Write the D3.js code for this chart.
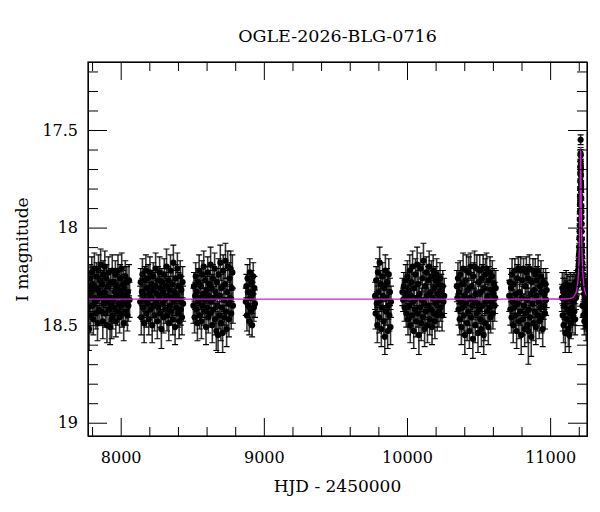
<!DOCTYPE html>
<html>
<head>
<meta charset="utf-8">
<script src="https://cdn.jsdelivr.net/npm/d3@7"></script>
<style>
body { margin: 0; background: #fff; }
svg { display: block; }
text { font-family: "DejaVu Serif", serif; fill: #000; }
</style>
</head>
<body>
<svg id="chart" width="600" height="512"></svg>
<script>
var title = "OGLE-2026-BLG-0716";
var xLabel = "HJD - 2450000";
var yLabel = "I magnitude";

var xDomain = [7771.6, 11257.5];
var yDomain = [17.1515, 19.068];
var xMajor = [8000, 9000, 10000, 11000];
var xMinor = [7800, 8200, 8400, 8600, 8800, 9200, 9400, 9600, 9800, 10200, 10400, 10600, 10800, 11200];
var yMajor = [17.5, 18, 18.5, 19];
var yMinor = [17.2, 17.3, 17.4, 17.6, 17.7, 17.8, 17.9, 18.1, 18.2, 18.3, 18.4, 18.6, 18.7, 18.8, 18.9];

// [HJD-2450000, I mag, error]
var s2017 = [[7772,18.41,0.08],[7776,18.30,0.07],[7779,18.52,0.11],[7783,18.35,0.08],[7787,18.26,0.07],[7790,18.45,0.09],[7794,18.33,0.07],[7798,18.23,0.08],[7801,18.40,0.07],[7805,18.29,0.06],[7809,18.47,0.08],[7812,18.36,0.07],[7816,18.21,0.08],[7820,18.38,0.07],[7823,18.31,0.06],[7827,18.44,0.08],[7831,18.25,0.07],[7834,18.37,0.06],[7838,18.49,0.09],[7842,18.32,0.07],[7845,18.22,0.08],[7849,18.42,0.07],[7853,18.34,0.06],[7856,18.27,0.07],[7860,18.19,0.08],[7864,18.43,0.07],[7867,18.36,0.06],[7871,18.29,0.07],[7875,18.48,0.09],[7878,18.24,0.07],[7882,18.39,0.06],[7886,18.33,0.07],[7889,18.20,0.08],[7893,18.44,0.07],[7897,18.35,0.06],[7900,18.26,0.07],[7904,18.50,0.09],[7908,18.38,0.07],[7911,18.30,0.06],[7915,18.23,0.08],[7919,18.42,0.07],[7922,18.36,0.06],[7926,18.51,0.09],[7930,18.28,0.07],[7933,18.40,0.08],[7937,18.47,0.10],[7941,18.22,0.08],[7944,18.45,0.07],[7948,18.37,0.06],[7952,18.28,0.07],[7955,18.41,0.08],[7959,18.33,0.06],[7963,18.24,0.07],[7966,18.48,0.08],[7970,18.35,0.07],[7974,18.30,0.06],[7977,18.43,0.07],[7981,18.22,0.08],[7985,18.39,0.06],[7988,18.32,0.07],[7992,18.46,0.08],[7996,18.26,0.07],[7999,18.40,0.06],[8003,18.34,0.07],[8007,18.21,0.08],[8010,18.44,0.07],[8014,18.36,0.06],[8018,18.29,0.07],[8021,18.49,0.09],[8025,18.31,0.07],[8029,18.39,0.06],[8032,18.25,0.08],[8036,18.43,0.07],[8040,18.35,0.07],[8043,18.28,0.08],[8047,18.45,0.08],[8051,18.33,0.07],[8054,18.40,0.08],[8058,18.27,0.08],[8062,18.37,0.09]];

var s2018 = [[8136,18.38,0.08],[8140,18.28,0.07],[8144,18.46,0.09],[8148,18.33,0.07],[8152,18.24,0.08],[8156,18.41,0.07],[8160,18.35,0.06],[8164,18.49,0.10],[8168,18.27,0.07],[8172,18.37,0.06],[8176,18.22,0.08],[8180,18.44,0.07],[8184,18.31,0.06],[8188,18.39,0.07],[8192,18.26,0.07],[8196,18.47,0.08],[8200,18.34,0.06],[8204,18.23,0.08],[8208,18.42,0.07],[8212,18.36,0.06],[8216,18.29,0.07],[8220,18.50,0.09],[8224,18.32,0.07],[8228,18.25,0.07],[8232,18.40,0.06],[8236,18.45,0.08],[8240,18.30,0.07],[8244,18.21,0.08],[8248,18.38,0.06],[8252,18.34,0.07],[8256,18.48,0.09],[8260,18.27,0.07],[8264,18.41,0.07],[8268,18.36,0.06],[8272,18.23,0.08],[8276,18.44,0.07],[8280,18.31,0.06],[8284,18.52,0.10],[8288,18.28,0.07],[8292,18.39,0.06],[8296,18.33,0.07],[8300,18.46,0.08],[8304,18.24,0.08],[8308,18.37,0.06],[8312,18.42,0.07],[8316,18.30,0.07],[8320,18.20,0.09],[8324,18.45,0.08],[8328,18.35,0.06],[8332,18.27,0.07],[8336,18.49,0.09],[8340,18.32,0.07],[8344,18.40,0.06],[8348,18.22,0.08],[8352,18.43,0.07],[8356,18.36,0.06],[8360,18.29,0.07],[8364,18.47,0.08],[8368,18.18,0.09],[8372,18.38,0.07],[8376,18.33,0.06],[8380,18.51,0.09],[8384,18.26,0.07],[8388,18.41,0.07],[8392,18.35,0.06],[8396,18.21,0.08],[8400,18.44,0.07],[8404,18.30,0.07],[8408,18.48,0.09],[8412,18.37,0.07],[8416,18.25,0.08],[8420,18.42,0.08],[8424,18.32,0.07],[8428,18.46,0.09],[8432,18.28,0.08],[8436,18.39,0.09]];

var s2019 = [[8508,18.40,0.09],[8512,18.30,0.07],[8516,18.46,0.08],[8520,18.35,0.07],[8524,18.25,0.07],[8528,18.42,0.07],[8532,18.33,0.06],[8536,18.49,0.09],[8540,18.28,0.07],[8544,18.38,0.06],[8548,18.22,0.08],[8552,18.45,0.07],[8556,18.36,0.06],[8560,18.30,0.07],[8564,18.48,0.09],[8568,18.24,0.07],[8572,18.40,0.06],[8576,18.34,0.07],[8580,18.20,0.08],[8584,18.43,0.07],[8588,18.37,0.06],[8592,18.27,0.07],[8596,18.51,0.09],[8600,18.32,0.07],[8604,18.41,0.06],[8608,18.23,0.08],[8612,18.46,0.08],[8616,18.35,0.06],[8620,18.29,0.07],[8624,18.44,0.07],[8628,18.19,0.09],[8632,18.38,0.06],[8636,18.31,0.07],[8640,18.50,0.09],[8644,18.26,0.07],[8648,18.42,0.07],[8652,18.36,0.06],[8656,18.21,0.08],[8660,18.47,0.08],[8664,18.33,0.06],[8668,18.53,0.10],[8672,18.28,0.07],[8676,18.40,0.06],[8680,18.55,0.09],[8684,18.24,0.08],[8688,18.45,0.07],[8692,18.35,0.06],[8696,18.18,0.09],[8700,18.49,0.09],[8704,18.31,0.07],[8708,18.41,0.07],[8712,18.54,0.10],[8716,18.22,0.08],[8720,18.37,0.06],[8724,18.46,0.08],[8728,18.29,0.07],[8732,18.17,0.09],[8736,18.43,0.07],[8740,18.52,0.09],[8744,18.33,0.07],[8748,18.20,0.08],[8752,18.39,0.07],[8756,18.47,0.09],[8760,18.26,0.08],[8764,18.36,0.07],[8768,18.21,0.09],[8772,18.44,0.08],[8776,18.31,0.07],[8780,18.23,0.09],[8784,18.40,0.09]];

var s2020 = [[8874,18.38,0.07],[8878,18.30,0.06],[8882,18.45,0.08],[8886,18.26,0.07],[8890,18.40,0.06],[8894,18.33,0.06],[8898,18.48,0.07],[8902,18.23,0.07],[8906,18.36,0.06],[8910,18.43,0.07],[8914,18.28,0.06],[8918,18.50,0.06],[8922,18.34,0.06],[8926,18.25,0.07],[8930,18.41,0.07],[8934,18.31,0.06],[8938,18.39,0.07]];

var s2022 = [[9777,18.35,0.07],[9781,18.44,0.08],[9785,18.27,0.07],[9789,18.39,0.06],[9793,18.50,0.09],[9797,18.23,0.07],[9801,18.33,0.06],[9805,18.46,0.08],[9809,18.18,0.08],[9813,18.37,0.06],[9817,18.29,0.07],[9821,18.52,0.09],[9825,18.41,0.07],[9829,18.25,0.07],[9833,18.35,0.06],[9837,18.48,0.08],[9841,18.31,0.07],[9845,18.56,0.09],[9849,18.22,0.08],[9853,18.43,0.07],[9857,18.36,0.06],[9861,18.28,0.07],[9865,18.53,0.09],[9869,18.40,0.07],[9873,18.24,0.08],[9877,18.45,0.08],[9881,18.33,0.07],[9885,18.51,0.09],[9888,18.38,0.08]];

var s2023 = [[9968,18.33,0.07],[9973,18.37,0.06],[9978,18.30,0.07],[9983,18.41,0.07],[9987,18.34,0.06],[9991,18.27,0.08],[9995,18.44,0.07],[9999,18.36,0.06],[10003,18.25,0.08],[10007,18.47,0.08],[10011,18.32,0.06],[10015,18.40,0.07],[10019,18.22,0.08],[10023,18.50,0.09],[10027,18.35,0.06],[10031,18.28,0.07],[10035,18.45,0.07],[10039,18.20,0.08],[10043,18.38,0.06],[10047,18.53,0.09],[10051,18.31,0.07],[10055,18.42,0.07],[10059,18.24,0.08],[10063,18.48,0.08],[10067,18.36,0.06],[10071,18.19,0.09],[10075,18.44,0.07],[10079,18.29,0.07],[10083,18.55,0.10],[10087,18.34,0.06],[10091,18.41,0.07],[10095,18.21,0.08],[10099,18.49,0.09],[10103,18.37,0.06],[10107,18.26,0.07],[10111,18.46,0.08],[10115,18.17,0.09],[10119,18.39,0.07],[10123,18.52,0.09],[10127,18.30,0.07],[10131,18.43,0.07],[10135,18.23,0.08],[10139,18.35,0.06],[10143,18.50,0.09],[10147,18.27,0.07],[10151,18.40,0.07],[10155,18.20,0.08],[10159,18.47,0.08],[10163,18.33,0.06],[10167,18.42,0.07],[10171,18.25,0.08],[10175,18.51,0.09],[10179,18.36,0.07],[10183,18.22,0.08],[10187,18.44,0.07],[10191,18.31,0.07],[10195,18.48,0.09],[10199,18.27,0.07],[10203,18.39,0.06],[10207,18.24,0.08],[10211,18.45,0.08],[10215,18.34,0.07],[10219,18.29,0.07],[10223,18.43,0.08],[10227,18.37,0.07],[10231,18.26,0.08],[10235,18.41,0.07],[10240,18.32,0.08],[10245,18.45,0.08],[10250,18.30,0.08],[10255,18.38,0.08],[10260,18.35,0.09]];

var s2024 = [[10348,18.30,0.08],[10352,18.36,0.07],[10356,18.26,0.08],[10360,18.42,0.08],[10364,18.33,0.06],[10368,18.47,0.08],[10372,18.24,0.07],[10376,18.38,0.06],[10380,18.51,0.09],[10384,18.29,0.07],[10388,18.41,0.07],[10392,18.21,0.08],[10396,18.45,0.08],[10400,18.35,0.06],[10404,18.55,0.10],[10408,18.27,0.07],[10412,18.39,0.06],[10416,18.22,0.08],[10420,18.49,0.09],[10424,18.32,0.06],[10428,18.43,0.07],[10432,18.23,0.08],[10436,18.53,0.09],[10440,18.36,0.06],[10444,18.20,0.07],[10448,18.46,0.08],[10452,18.30,0.07],[10456,18.40,0.06],[10460,18.57,0.10],[10464,18.25,0.07],[10468,18.37,0.06],[10472,18.20,0.08],[10476,18.50,0.09],[10480,18.34,0.06],[10484,18.44,0.07],[10488,18.21,0.07],[10492,18.39,0.07],[10496,18.54,0.10],[10500,18.28,0.07],[10504,18.42,0.07],[10508,18.22,0.08],[10512,18.47,0.08],[10516,18.33,0.06],[10520,18.52,0.09],[10524,18.26,0.07],[10528,18.40,0.07],[10532,18.21,0.07],[10536,18.55,0.10],[10540,18.31,0.07],[10544,18.49,0.09],[10548,18.24,0.08],[10552,18.38,0.06],[10556,18.21,0.08],[10560,18.43,0.07],[10564,18.35,0.07],[10568,18.51,0.09],[10572,18.27,0.07],[10576,18.41,0.07],[10580,18.23,0.08],[10584,18.46,0.08],[10588,18.32,0.07],[10592,18.38,0.07],[10596,18.25,0.08],[10600,18.44,0.08],[10604,18.34,0.07],[10608,18.29,0.08],[10612,18.40,0.08],[10616,18.36,0.08],[10620,18.31,0.09]];

var s2025 = [[10714,18.35,0.08],[10718,18.28,0.07],[10722,18.42,0.08],[10726,18.31,0.07],[10730,18.46,0.08],[10734,18.24,0.08],[10738,18.38,0.06],[10742,18.50,0.09],[10746,18.29,0.07],[10750,18.41,0.07],[10754,18.22,0.06],[10758,18.45,0.08],[10762,18.34,0.06],[10766,18.53,0.09],[10770,18.26,0.07],[10774,18.39,0.06],[10778,18.21,0.06],[10782,18.48,0.09],[10786,18.33,0.06],[10790,18.43,0.07],[10794,18.22,0.07],[10798,18.55,0.10],[10802,18.36,0.06],[10806,18.27,0.07],[10810,18.47,0.08],[10814,18.21,0.05],[10818,18.40,0.06],[10822,18.52,0.09],[10826,18.30,0.07],[10830,18.44,0.07],[10834,18.23,0.08],[10838,18.37,0.06],[10842,18.50,0.09],[10846,18.26,0.07],[10848,18.53,0.17],[10852,18.42,0.07],[10856,18.21,0.07],[10860,18.46,0.08],[10864,18.34,0.06],[10868,18.56,0.10],[10872,18.28,0.07],[10876,18.39,0.07],[10880,18.22,0.06],[10884,18.49,0.09],[10888,18.32,0.06],[10892,18.43,0.07],[10896,18.24,0.08],[10900,18.51,0.09],[10904,18.35,0.07],[10908,18.27,0.07],[10912,18.45,0.08],[10916,18.22,0.08],[10920,18.38,0.06],[10924,18.48,0.09],[10928,18.30,0.07],[10932,18.41,0.07],[10936,18.25,0.08],[10940,18.46,0.08],[10944,18.33,0.07],[10948,18.52,0.09],[10952,18.28,0.07],[10956,18.40,0.07],[10960,18.34,0.08],[10964,18.44,0.08],[10968,18.29,0.08],[10972,18.37,0.08],[10976,18.32,0.09]];

var s2026 = [[11082,18.36,0.07],[11085,18.31,0.08],[11088,18.45,0.08],[11091,18.33,0.07],[11094,18.50,0.09],[11097,18.30,0.07],[11100,18.40,0.07],[11103,18.32,0.06],[11106,18.54,0.10],[11109,18.37,0.07],[11112,18.29,0.07],[11115,18.47,0.08],[11118,18.34,0.07],[11121,18.42,0.07],[11124,18.31,0.07],[11127,18.52,0.09],[11130,18.36,0.06],[11133,18.55,0.09],[11136,18.32,0.07],[11139,18.44,0.07],[11142,18.30,0.07],[11145,18.49,0.08],[11148,18.35,0.06],[11151,18.41,0.07],[11154,18.31,0.07],[11157,18.46,0.08],[11160,18.33,0.06],[11163,18.38,0.07],[11166,18.29,0.06],[11169,18.43,0.07],[11172,18.31,0.06],[11175,18.47,0.08],[11178,18.30,0.06],[11181,18.36,0.06],[11184,18.28,0.06],
  [11186,18.30,0.05],[11189,18.27,0.05],[11192,18.29,0.05],[11195,18.22,0.05],[11197,18.25,0.05],[11199,18.19,0.04],[11200,18.21,0.05],[11201,18.14,0.04],[11202,18.17,0.04],[11203,18.10,0.04],[11204,18.12,0.04],[11205,18.05,0.04],[11206,18.02,0.04],[11206.5,18.06,0.04],[11207,17.96,0.03],[11207.5,17.99,0.04],[11208,17.92,0.03],[11208.5,17.88,0.03],[11209,17.84,0.03],[11209.5,17.86,0.03],[11210,17.80,0.03],[11210.5,17.76,0.03],[11211,17.72,0.03],[11211.5,17.69,0.03],[11212,17.66,0.03],[11212.5,17.62,0.03],[11213,17.55,0.025],[11213.5,17.63,0.03],[11214,17.68,0.03],[11214.5,17.73,0.03],[11215,17.70,0.03],[11215.5,17.77,0.03],[11216,17.81,0.03],[11216.5,17.79,0.03],[11217,17.85,0.03],[11217.5,17.89,0.03],[11218,17.92,0.03],[11218.5,17.95,0.04],[11219,17.98,0.04],[11220,18.02,0.04],[11221,18.06,0.04],[11222,18.09,0.04],[11223,18.12,0.04],[11224,18.15,0.04],[11225,18.18,0.05],[11226,18.40,0.06],[11227,18.21,0.05],[11229,18.24,0.05],[11231,18.27,0.05],[11232,18.45,0.07],[11233,18.29,0.05],[11235,18.31,0.06],[11238,18.34,0.06],[11239,18.48,0.07],[11241,18.30,0.06],[11244,18.38,0.07],[11246,18.44,0.08],[11247,18.35,0.07],[11250,18.42,0.07],[11252,18.50,0.08],[11253,18.33,0.07],[11256,18.45,0.08]];

// point-lens model: [HJD-2450000, I mag]
var model = [[7771.6,18.367],[11110,18.366],[11150,18.362],[11173,18.345],[11185,18.32],[11193,18.28],[11198,18.23],[11202,18.16],[11205,18.07],[11207,17.97],[11209,17.85],[11211,17.70],[11213,17.585],[11215,17.70],[11217,17.85],[11219,17.97],[11221,18.07],[11224,18.16],[11228,18.23],[11233,18.28],[11241,18.32],[11253,18.345],[11257.5,18.35]];

var seasons = [s2017, s2018, s2019, s2020, s2022, s2023, s2024, s2025, s2026];

var svg = d3.select("#chart");
var margin = { top: 62, right: 13, bottom: 76, left: 88 };
var width = 600 - margin.left - margin.right;
var height = 512 - margin.top - margin.bottom;

var g = svg.append("g").attr("transform", "translate(" + margin.left + "," + margin.top + ")");

var x = d3.scaleLinear().domain(xDomain).range([0, width]);
var y = d3.scaleLinear().domain(yDomain).range([0, height]);

g.append("clipPath").attr("id", "plot-clip")
  .append("rect").attr("width", width).attr("height", height);

var points = [];
seasons.forEach(function (s) {
  s.forEach(function (d) { points.push({ t: d[0], m: d[1], e: d[2] }); });
});

var data = g.append("g").attr("clip-path", "url(#plot-clip)");

data.selectAll("line.bar").data(points).enter().append("line")
  .attr("class", "bar")
  .attr("x1", d => x(d.t)).attr("x2", d => x(d.t))
  .attr("y1", d => y(d.m - d.e)).attr("y2", d => y(d.m + d.e))
  .attr("stroke", "#333").attr("stroke-width", 1.6);

data.selectAll("path.cap").data(points).enter().append("path")
  .attr("class", "cap")
  .attr("d", function (d) {
    var cx = x(d.t), y1 = y(d.m - d.e), y2 = y(d.m + d.e);
    return "M" + (cx - 3) + "," + y1 + "H" + (cx + 3) + "M" + (cx - 3) + "," + y2 + "H" + (cx + 3);
  })
  .attr("stroke", "#000").attr("stroke-width", 1.1).attr("fill", "none");

data.selectAll("circle").data(points).enter().append("circle")
  .attr("cx", d => x(d.t)).attr("cy", d => y(d.m))
  .attr("r", 3.1).attr("fill", "#000");

var line = d3.line().x(d => x(d[0])).y(d => y(d[1])).curve(d3.curveMonotoneX);
data.append("path").datum(model)
  .attr("d", line)
  .attr("fill", "none").attr("stroke", "#cc22cc").attr("stroke-width", 1.3);

// axes: major and minor ticks on all four sides, pointing inward
function styleAxis(sel) {
  sel.selectAll("line").attr("stroke", "#000");
  sel.selectAll("path").attr("stroke", "#000");
  sel.selectAll("text").style("font-size", "16px").attr("fill", "#000");
}

g.append("g").attr("transform", "translate(0," + height + ")")
  .call(d3.axisBottom(x).tickValues(xMajor).tickSizeInner(-18).tickSizeOuter(0).tickPadding(16).tickFormat(d => String(d)))
  .call(styleAxis);
g.append("g").attr("transform", "translate(0," + height + ")")
  .call(d3.axisBottom(x).tickValues(xMinor).tickSizeInner(-9).tickSizeOuter(0).tickFormat(""))
  .call(styleAxis);
g.append("g")
  .call(d3.axisTop(x).tickValues(xMajor).tickSizeInner(-18).tickSizeOuter(0).tickFormat(""))
  .call(styleAxis);
g.append("g")
  .call(d3.axisTop(x).tickValues(xMinor).tickSizeInner(-9).tickSizeOuter(0).tickFormat(""))
  .call(styleAxis);

g.append("g")
  .call(d3.axisLeft(y).tickValues(yMajor).tickSizeInner(-19).tickSizeOuter(0).tickPadding(10).tickFormat(d => String(d)))
  .call(styleAxis);
g.append("g")
  .call(d3.axisLeft(y).tickValues(yMinor).tickSizeInner(-10).tickSizeOuter(0).tickFormat(""))
  .call(styleAxis);
g.append("g").attr("transform", "translate(" + width + ",0)")
  .call(d3.axisRight(y).tickValues(yMajor).tickSizeInner(-19).tickSizeOuter(0).tickFormat(""))
  .call(styleAxis);
g.append("g").attr("transform", "translate(" + width + ",0)")
  .call(d3.axisRight(y).tickValues(yMinor).tickSizeInner(-10).tickSizeOuter(0).tickFormat(""))
  .call(styleAxis);

g.append("rect").attr("width", width).attr("height", height)
  .attr("fill", "none").attr("stroke", "#000").attr("stroke-width", 1.2);

svg.append("text")
  .attr("x", margin.left + width / 2).attr("y", 42)
  .attr("text-anchor", "middle").style("font-size", "17.5px")
  .text(title);

svg.append("text")
  .attr("x", margin.left + width / 2).attr("y", 491.5)
  .attr("text-anchor", "middle").style("font-size", "17px")
  .text(xLabel);

svg.append("text")
  .attr("transform", "translate(28,249.5) rotate(-90)")
  .attr("text-anchor", "middle").style("font-size", "17px")
  .text(yLabel);
</script>
</body>
</html>
